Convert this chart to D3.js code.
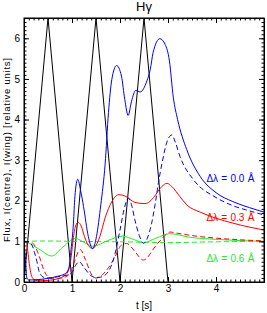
<!DOCTYPE html>
<html>
<head>
<meta charset="utf-8">
<script src="https://cdn.jsdelivr.net/npm/d3@7"></script>
<style>
  body { margin: 0; background: #fff; }
  svg { display: block; font-family: "Liberation Sans", Arial, sans-serif; }
</style>
</head>
<body>
<svg width="267" height="313"></svg>
<script>
// source image: H-gamma light curves, centre and wing intensities
const blackT = [0, 0.5, 1, 1.5, 2, 2.5, 3];
const blackV = [0, 6.5, 0, 6.5, 0, 6.5, 0];

const blueSolidT = [0, 0.03, 0.06, 0.1, 0.3, 0.5, 0.7, 0.85, 0.93, 0.98, 1.03, 1.06, 1.12, 1.18, 1.24, 1.34, 1.43, 1.51, 1.6, 1.69, 1.76, 1.83, 1.93, 2.03, 2.1, 2.17, 2.24, 2.33, 2.42, 2.56, 2.63, 2.69, 2.83, 2.94, 3.03, 3.11, 3.2, 3.39, 3.67, 4.0, 4.35, 4.7, 5];
const blueSolidV = [1, 0.55, 0.1, 0.05, 0.06, 0.09, 0.14, 0.2, 0.32, 0.8, 1.45, 2.1, 2.53, 2.25, 1.86, 1.12, 0.82, 1.12, 1.9, 2.9, 4.17, 4.99, 5.33, 5.07, 4.49, 4.1, 4.45, 4.72, 4.68, 4.95, 5.23, 5.65, 5.99, 5.85, 5.44, 4.55, 4.0, 3.26, 2.6, 2.2, 1.98, 1.83, 1.72];

const blueDashT = [0, 0.1, 0.17, 0.22, 0.27, 0.31, 0.37, 0.45, 0.55, 0.7, 0.9, 1.0, 1.08, 1.15, 1.25, 1.38, 1.5, 1.6, 1.69, 1.8, 1.9, 2.0, 2.1, 2.17, 2.24, 2.31, 2.4, 2.49, 2.57, 2.66, 2.73, 2.8, 2.88, 2.97, 3.08, 3.15, 3.25, 3.53, 4.0, 4.35, 4.7, 5];
const blueDashV = [1, 0.99, 0.9, 0.72, 0.5, 0.28, 0.15, 0.1, 0.1, 0.13, 0.17, 0.24, 0.42, 0.5, 0.36, 0.17, 0.11, 0.12, 0.17, 0.35, 0.71, 1.28, 1.86, 2.07, 1.9, 1.53, 1.15, 0.95, 1.08, 1.45, 1.9, 2.44, 2.95, 3.42, 3.62, 3.45, 3.09, 2.52, 2.08, 1.88, 1.75, 1.65];

const redSolidT = [0, 0.05, 0.08, 0.11, 0.15, 0.2, 0.3, 0.5, 0.7, 0.86, 0.93, 0.98, 1.03, 1.08, 1.13, 1.19, 1.26, 1.34, 1.42, 1.5, 1.58, 1.69, 1.83, 1.97, 2.1, 2.31, 2.52, 2.62, 2.7, 2.87, 2.98, 3.08, 3.25, 3.39, 3.67, 4.0, 4.35, 4.7, 5];
const redSolidV = [1, 0.98, 0.75, 0.45, 0.18, 0.07, 0.03, 0.04, 0.08, 0.17, 0.3, 0.6, 1.1, 1.4, 1.47, 1.38, 1.12, 0.9, 0.83, 0.9, 1.12, 1.58, 1.98, 2.15, 2.12, 1.96, 1.93, 1.98, 2.08, 2.35, 2.43, 2.35, 2.1, 1.9, 1.72, 1.57, 1.45, 1.35, 1.28];

const redDashT = [0, 0.15, 0.22, 0.29, 0.35, 0.41, 0.5, 0.6, 0.8, 0.95, 1.05, 1.17, 1.28, 1.4, 1.5, 1.6, 1.69, 1.8, 1.9, 2.03, 2.14, 2.22, 2.31, 2.49, 2.57, 2.66, 2.77, 2.87, 2.96, 3.04, 3.2, 3.46, 4.0, 4.5, 5];
const redDashV = [1, 0.98, 0.9, 0.72, 0.52, 0.3, 0.13, 0.08, 0.1, 0.2, 0.5, 0.8, 0.55, 0.2, 0.1, 0.14, 0.25, 0.42, 0.63, 0.91, 0.95, 0.88, 0.75, 0.54, 0.6, 0.75, 0.93, 1.06, 1.17, 1.23, 1.2, 1.15, 1.08, 1.04, 1.01];

const greenSolidT = [0, 0.05, 0.3, 0.58, 0.8, 1.07, 1.25, 1.43, 1.75, 2.05, 2.3, 2.49, 2.75, 3.04, 3.46, 4.0, 5];
const greenSolidV = [1, 0.98, 0.82, 0.64, 0.85, 1.07, 0.98, 0.88, 1.02, 1.13, 1.04, 0.97, 1.08, 1.19, 1.1, 1.05, 1.0];

const greenDashT = [0, 0.5, 1, 2, 3, 4, 5];
const greenDashV = [1.0, 1.01, 1.0, 0.99, 0.97, 0.99, 1.0];

const xTicks = [0, 1, 2, 3, 4];
const yTicks = [0, 1, 2, 3, 4, 5, 6];
const legendLabels = ["Δλ = 0.0 Å", "Δλ = 0.3 Å", "Δλ = 0.6 Å"];

const svg = d3.select("svg");
const width = +svg.attr("width");
const height = +svg.attr("height");
const margin = { top: 18, right: 3, bottom: 31, left: 24 };
const innerWidth = width - margin.left - margin.right;
const innerHeight = height - margin.top - margin.bottom;

const xScale = d3.scaleLinear().domain([0, 5]).range([0, innerWidth]);
const yScale = d3.scaleLinear().domain([0, 6.5]).range([innerHeight, 0]);

const g = svg.append("g")
  .attr("transform", `translate(${margin.left}, ${margin.top})`);

g.append("clipPath").attr("id", "plotclip")
  .append("rect").attr("width", innerWidth).attr("height", innerHeight);

const zip = (ts, vs) => ts.map((t, i) => [t, vs[i]]);

const green = "#22ee22";
const series = [
  { data: zip(blackT, blackV), color: "#000", dash: null, curve: d3.curveLinear },
  { data: zip(greenDashT, greenDashV), color: green, dash: "5,3", curve: d3.curveMonotoneX },
  { data: zip(greenSolidT, greenSolidV), color: green, dash: null, curve: d3.curveMonotoneX },
  { data: zip(redDashT, redDashV), color: "#ff0000", dash: "5,3", curve: d3.curveMonotoneX },
  { data: zip(redSolidT, redSolidV), color: "#ff0000", dash: null, curve: d3.curveMonotoneX },
  { data: zip(blueDashT, blueDashV), color: "#0000ff", dash: "5,3", curve: d3.curveMonotoneX },
  { data: zip(blueSolidT, blueSolidV), color: "#0000ff", dash: null, curve: d3.curveMonotoneX }
];

const lines = g.append("g").attr("clip-path", "url(#plotclip)");
series.forEach((s) => {
  const line = d3.line()
    .x((d) => xScale(d[0]))
    .y((d) => yScale(d[1]))
    .curve(s.curve);
  lines.append("path")
    .datum(s.data)
    .attr("d", line)
    .attr("fill", "none")
    .attr("stroke", s.color)
    .attr("stroke-width", 1)
    .attr("stroke-dasharray", s.dash);
});

// axes, ticks inward on all four sides
const xMinor = d3.range(0, 5.0001, 0.1);
const yMinor = d3.range(0, 6.5001, 0.1);

const styleAxis = (sel) => {
  sel.attr("font-family", null);
  sel.select(".domain").attr("stroke", "#000");
  sel.selectAll(".tick line").attr("stroke", "#000");
  sel.selectAll("text").attr("font-size", 10).attr("fill", "#000");
};
const noText = (sel) => sel.selectAll("text").remove();

g.append("g").attr("transform", `translate(0, ${innerHeight})`)
  .call(d3.axisBottom(xScale).tickValues(xMinor).tickSize(-2.5).tickSizeOuter(0))
  .call(styleAxis).call(noText);
g.append("g").attr("transform", `translate(0, ${innerHeight})`)
  .call(d3.axisBottom(xScale).tickValues(xTicks).tickSize(-5).tickPadding(3).tickFormat(d3.format("d")).tickSizeOuter(0))
  .call(styleAxis);
g.append("g")
  .call(d3.axisTop(xScale).tickValues(xMinor).tickSize(-2.5).tickSizeOuter(0))
  .call(styleAxis).call(noText);
g.append("g")
  .call(d3.axisTop(xScale).tickValues(xTicks).tickSize(-5).tickSizeOuter(0))
  .call(styleAxis).call(noText);

g.append("g")
  .call(d3.axisLeft(yScale).tickValues(yMinor).tickSize(-2.5).tickSizeOuter(0))
  .call(styleAxis).call(noText);
g.append("g")
  .call(d3.axisLeft(yScale).tickValues(yTicks).tickSize(-5).tickPadding(4).tickFormat(d3.format("d")).tickSizeOuter(0))
  .call(styleAxis);
g.append("g").attr("transform", `translate(${innerWidth}, 0)`)
  .call(d3.axisRight(yScale).tickValues(yMinor).tickSize(-2.5).tickSizeOuter(0))
  .call(styleAxis).call(noText);
g.append("g").attr("transform", `translate(${innerWidth}, 0)`)
  .call(d3.axisRight(yScale).tickValues(yTicks).tickSize(-5).tickSizeOuter(0))
  .call(styleAxis).call(noText);

g.append("rect")
  .attr("width", innerWidth).attr("height", innerHeight)
  .attr("fill", "none").attr("stroke", "#000").attr("stroke-width", 1);

// legend labels inside the plot
const legendColors = ["#0000ff", "#ff0000", green];
const legendY = [2.55, 1.58, 0.59];
g.selectAll(".legend")
  .data(legendLabels)
  .join("text")
  .attr("class", "legend")
  .attr("x", xScale(3.8))
  .attr("y", (d, i) => yScale(legendY[i]) + 3.5)
  .attr("font-size", 10)
  .attr("word-spacing", 0.5)
  .attr("fill", (d, i) => legendColors[i])
  .text((d) => d);

g.append("text")
  .attr("x", innerWidth / 2)
  .attr("y", -7)
  .attr("text-anchor", "middle")
  .attr("font-size", 13)
  .text("Hγ");

g.append("text")
  .attr("x", innerWidth / 2)
  .attr("y", innerHeight + 27)
  .attr("text-anchor", "middle")
  .attr("font-size", 10)
  .text("t [s]");

g.append("text")
  .attr("transform", `translate(-14, ${innerHeight / 2}) rotate(-90)`)
  .attr("text-anchor", "middle")
  .attr("font-size", 9.5)
  .attr("textLength", 184)
  .attr("lengthAdjust", "spacing")
  .text("Flux, I(centre), I(wing) [relative units]");
</script>
</body>
</html>
